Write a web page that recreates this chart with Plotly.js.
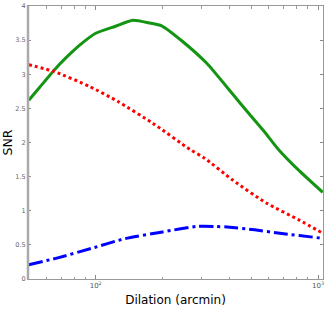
<!DOCTYPE html>
<html>
<head>
<meta charset="utf-8">
<script src="https://cdn.plot.ly/plotly-3.0.1.min.js"></script>
<style>html,body{margin:0;padding:0;background:#fff;}#chart{width:327px;height:310px;}</style>
</head>
<body>
<div id="chart"></div>
<script>
var greenX = [50, 56, 65, 74, 85, 100, 122, 147, 175, 198, 246, 316, 413, 493, 580, 659, 827, 1050];
var greenY = [2.62, 2.81, 3.06, 3.25, 3.43, 3.60, 3.70, 3.79, 3.75, 3.71, 3.48, 3.16, 2.71, 2.41, 2.14, 1.91, 1.58, 1.27];
var redX = [50, 65, 94, 126, 181, 265, 309, 413, 588, 827, 1050];
var redY = [3.14, 3.04, 2.82, 2.60, 2.28, 1.90, 1.77, 1.45, 1.11, 0.86, 0.67];
var blueX = [50, 67.5, 96, 135, 200, 285, 343, 400, 519, 673, 1019, 1050];
var blueY = [0.21, 0.31, 0.45, 0.59, 0.69, 0.77, 0.77, 0.76, 0.72, 0.67, 0.60, 0.59];
var xTickVals = [100, 1000];
var xTickText = ['10<sup>2</sup>', '10<sup>3</sup>'];
var xMinorVals = [60, 70, 80, 90, 200, 300, 400, 500, 600, 700, 800, 900];

var traces = [
  {x: greenX, y: greenY, mode: 'lines', line: {color: '#139513', width: 3, shape: 'spline', smoothing: 0.5}, hoverinfo: 'none'},
  {x: redX, y: redY, mode: 'lines', line: {color: '#ff0000', width: 3, dash: '3px,3px', shape: 'spline', smoothing: 0.6}, hoverinfo: 'none'},
  {x: blueX, y: blueY, mode: 'lines', line: {color: '#0000ff', width: 3, dash: '14px,4px,3px,4px', shape: 'spline', smoothing: 0.6}, hoverinfo: 'none'}
];

var layout = {
  width: 327, height: 310,
  margin: {l: 28, r: 4, t: 6, b: 31},
  paper_bgcolor: '#fff', plot_bgcolor: '#fff',
  showlegend: false,
  font: {family: 'DejaVu Sans, sans-serif', color: '#000'},
  xaxis: {
    type: 'log',
    range: [Math.log10(49.6), Math.log10(1053)],
    tickvals: xTickVals, ticktext: xTickText,
    ticks: 'inside', ticklen: 4, tickwidth: 1, tickcolor: '#888',
    minor: {tickvals: xMinorVals, ticks: 'inside', ticklen: 2.5, tickcolor: '#999', showgrid: false},
    showline: true, linecolor: '#999', linewidth: 1, mirror: 'ticks',
    showgrid: false, zeroline: false,
    tickfont: {size: 7, color: '#555', family: 'DejaVu Sans, sans-serif'},
    title: {text: 'Dilation (arcmin)', font: {size: 12, color: '#000', family: 'DejaVu Sans, sans-serif'}, standoff: 6}
  },
  yaxis: {
    range: [0, 4],
    dtick: 0.5,
    ticks: 'inside', ticklen: 3, tickwidth: 1, tickcolor: '#888',
    showline: true, linecolor: '#999', linewidth: 1, mirror: 'ticks',
    showgrid: false, zeroline: false,
    tickfont: {size: 6.5, color: '#666', family: 'DejaVu Sans, sans-serif'},
    title: {text: 'SNR', font: {size: 12.5, color: '#000', family: 'DejaVu Sans, sans-serif'}, standoff: 4}
  },
  shapes: [
    {type: 'line', xref: 'paper', yref: 'paper', x0: 0, x1: 0, y0: 0, y1: 1, line: {color: '#aaaaaa', width: 2.5}}
  ]
};

Plotly.newPlot('chart', traces, layout, {staticPlot: true, displayModeBar: false});
</script>
</body>
</html>
